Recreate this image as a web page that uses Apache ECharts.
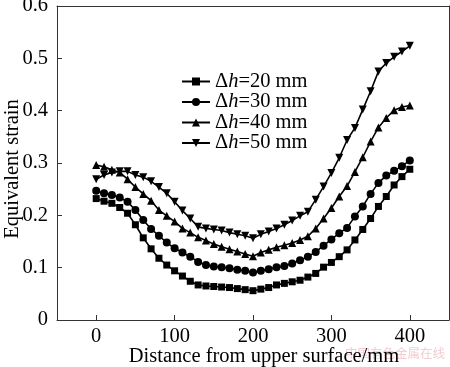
<!DOCTYPE html>
<html><head><meta charset="utf-8">
<script src="https://cdn.jsdelivr.net/npm/echarts@6/dist/echarts.min.js"></script>
<style>html,body{margin:0;padding:0;background:#fff}#c{width:450px;height:367px}</style>
</head><body><div id="c"></div>
<script>
var distances = [0,10,20,30,40,50,60,70,80,90,100,110,120,130,140,150,160,170,180,190,200,210,220,230,240,250,260,270,280,290,300,310,320,330,340,350,360,370,380,390,400];
var seriesNames = ['Δh=20 mm','Δh=30 mm','Δh=40 mm','Δh=50 mm'];
var strain20 = [0.232,0.227,0.223,0.215,0.204,0.182,0.157,0.136,0.118,0.105,0.094,0.084,0.074,0.067,0.065,0.064,0.063,0.062,0.060,0.058,0.056,0.059,0.062,0.067,0.070,0.073,0.076,0.082,0.089,0.101,0.110,0.121,0.134,0.153,0.173,0.194,0.217,0.236,0.258,0.274,0.288];
var strain30 = [0.247,0.242,0.239,0.234,0.226,0.210,0.191,0.174,0.161,0.148,0.137,0.129,0.121,0.111,0.105,0.102,0.101,0.099,0.096,0.094,0.091,0.094,0.097,0.101,0.103,0.108,0.114,0.121,0.130,0.142,0.154,0.166,0.176,0.198,0.217,0.241,0.262,0.276,0.285,0.294,0.305];
var strain40 = [0.296,0.293,0.287,0.282,0.269,0.254,0.241,0.228,0.210,0.199,0.188,0.175,0.167,0.158,0.152,0.145,0.140,0.135,0.131,0.126,0.122,0.129,0.134,0.139,0.143,0.147,0.153,0.160,0.175,0.194,0.214,0.236,0.256,0.283,0.311,0.341,0.368,0.386,0.401,0.407,0.410];
var strain50 = [0.269,0.277,0.282,0.284,0.284,0.277,0.273,0.265,0.254,0.242,0.226,0.209,0.194,0.178,0.175,0.173,0.171,0.167,0.164,0.161,0.156,0.164,0.169,0.175,0.182,0.190,0.199,0.207,0.230,0.255,0.281,0.310,0.344,0.367,0.402,0.437,0.475,0.491,0.503,0.513,0.524];
var xTicks = [0,100,200,300,400];
var xTitle = 'Distance from upper surface/mm';
var yTitle = 'Equivalent strain';

var FONT = 'Liberation Serif';
var FS = 20.5;
function pairs(vals){ return distances.map(function(d,i){ return [d, vals[i]]; }); }
var symbols = ['rect','circle','triangle','path://M0,0 L10,0 L5,9 Z'];
var sizes = [7,8,8,8];
var allVals = [strain20,strain30,strain40,strain50];
var boxLine = {show:true,onZero:false,lineStyle:{color:'#333',width:1}};

var chart = echarts.init(document.getElementById('c'), null, {renderer:'canvas'});
chart.setOption({
  animation:false,
  backgroundColor:'#fff',
  grid:{left:57,right:1,top:6,bottom:47,outerBoundsMode:'none',containLabel:false,show:false},
  legend:{
    orient:'vertical', left:176, top:66, itemWidth:28, itemHeight:10, itemGap:-0.5,
    data:seriesNames,
    textStyle:{fontFamily:FONT,fontSize:FS,color:'#000',lineHeight:19,
      rich:{n:{fontFamily:FONT,fontSize:FS,color:'#000',lineHeight:19},i:{fontFamily:FONT,fontSize:FS,fontStyle:'italic',color:'#000',lineHeight:19}}},
    formatter:function(name){ return '{n|Δ}{i|h}{n|' + name.slice(2) + '}'; }
  },
  xAxis:[{
    type:'value', min:-50, max:450, position:'bottom',
    name:xTitle, nameLocation:'middle', nameGap:26, nameMoveOverlap:false,
    nameTextStyle:{fontFamily:FONT,fontSize:FS,color:'#000',padding:[0,0,0,22]},
    axisLine:boxLine,
    axisTick:{show:true,inside:true,length:5,customValues:xTicks,lineStyle:{color:'#333'}},
    axisLabel:{customValues:xTicks,fontFamily:FONT,fontSize:FS,color:'#000',margin:6},
    splitLine:{show:false}
  },{
    type:'value', min:-50, max:450, position:'top',
    axisLine:boxLine, axisTick:{show:false}, axisLabel:{show:false}, splitLine:{show:false}
  }],
  yAxis:[{
    type:'value', min:0, max:0.6, interval:0.1, position:'left',
    axisLine:boxLine,
    axisTick:{show:true,inside:true,length:5,lineStyle:{color:'#333'}},
    axisLabel:{fontFamily:FONT,fontSize:FS,color:'#000',margin:9,
      formatter:function(v){ return v===0?'0':v.toFixed(1); }},
    splitLine:{show:false}
  },{
    type:'value', min:0, max:0.6, interval:0.1, position:'right',
    axisLine:boxLine, axisTick:{show:false}, axisLabel:{show:false}, splitLine:{show:false}
  }],
  graphic:[
    {type:'text',x:13,y:169,rotation:Math.PI/2,style:{text:yTitle,font:FS+'px "'+FONT+'"',fill:'#000',align:'center',verticalAlign:'middle'}},
    {type:'text',right:5,top:347,style:{text:'中国有色金属在线',font:'12.5px "Noto Sans CJK SC"',fill:'#f3cdd3'}}
  ],
  series:seriesNames.map(function(nm,k){
    return {name:nm,type:'line',data:pairs(allVals[k]),symbol:symbols[k],symbolSize:sizes[k],showSymbol:true,
      lineStyle:{color:'#000',width:1.6},itemStyle:{color:'#000',borderWidth:0},color:'#000'};
  })
});
</script></body></html>
